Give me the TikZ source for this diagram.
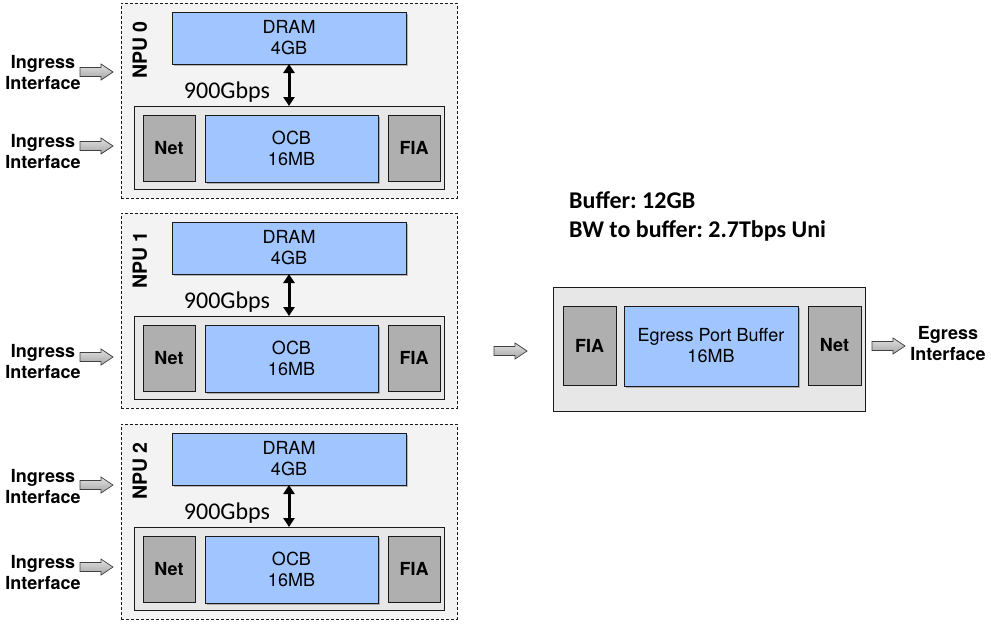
\documentclass[tikz,border=0pt]{standalone}
\usepackage{fontspec}
\setmainfont{TeX Gyre Heros}
\newfontfamily\calfont{Carlito}
\usetikzlibrary{shadows,arrows.meta}
\definecolor{outerbg}{HTML}{F3F3F3}
\definecolor{innerbg}{HTML}{E7E7E7}
\definecolor{greyblk}{HTML}{B0AFAF}
\definecolor{blueblk}{HTML}{A1C6FF}
\definecolor{edge}{HTML}{1A1A1A}
\frenchspacing
\begin{document}
\begin{tikzpicture}[x=1pt,y=-1pt,
  box/.style={anchor=north west,inner sep=0pt,outer sep=0pt,align=center},
  npubox/.style={box,fill=outerbg,draw=edge,line width=0.8pt,dash pattern=on 3pt off 2pt},
  innerbox/.style={box,fill=innerbg,draw=edge,line width=0.9pt},
  greybox/.style={box,fill=greyblk,draw=edge,line width=0.9pt,font=\bfseries\fontsize{18}{21}\selectfont},
  bluebox/.style={box,fill=blueblk,draw=edge,line width=0.9pt,font=\fontsize{18}{21}\selectfont,
     drop shadow={shadow xshift=1.5pt,shadow yshift=-2pt,opacity=0.25,fill=black}},
  iflabel/.style={align=center,inner sep=0pt,font=\bfseries\fontsize{18}{21}\selectfont},
  npulabel/.style={rotate=90,inner sep=0pt,font=\bfseries\fontsize{19.5}{21}\selectfont},
  bwlabel/.style={inner sep=0pt,font=\calfont\fontsize{24}{26}\selectfont},
  titlelabel/.style={anchor=base west,inner sep=0pt,font=\calfont\bfseries\fontsize{24}{26}\selectfont},
  dbl/.style={{Triangle[width=11pt,length=9pt]}-{Triangle[width=11pt,length=9pt]},line width=3pt},
  barrowstyle/.style={draw=black!75,line width=0.7pt,top color=black!12,bottom color=black!35},
  barrow/.pic={\path[barrowstyle] (0,-4.5) -- (21,-4.5) -- (21,-8) -- (33,0) -- (21,8) -- (21,4.5) -- (0,4.5) -- cycle;}
]
\useasboundingbox[fill=white] (0,0) rectangle (991,624);

\foreach \i/\dy in {0/0,1/210,2/421}{
\begin{scope}[shift={(0,\dy)}]
  \node[npubox,minimum width=336pt,minimum height=195pt] (npu\i) at (121,3) {};
  \node[npulabel] (lbl\i) at (140,50) {NPU \i};
  \node[bluebox,minimum width=234pt,minimum height=52pt] (dram\i) at (172,12) {DRAM\\4GB};
  \node[innerbox,minimum width=310pt,minimum height=83pt] (core\i) at (134,106) {};
  \node[greybox,minimum width=52pt,minimum height=66pt] (net\i) at (143,115) {Net};
  \node[bluebox,minimum width=173pt,minimum height=67pt] (ocb\i) at (205,115) {OCB\\16MB};
  \node[greybox,minimum width=52pt,minimum height=66pt] (fia\i) at (388,115) {FIA};
  \node[bwlabel] (bw\i) at (227,92) {900Gbps};
  \draw[dbl] (289,0 |- dram\i.south) -- (289,0 |- core\i.north);
\end{scope}
}

% ingress interfaces
\node[iflabel] (in0a) at (43,73) {Ingress\\Interface};
\pic at (80,72) {barrow};
\node[iflabel] (in0b) at (43,152) {Ingress\\Interface};
\pic at (80,146) {barrow};
\node[iflabel] (in1a) at (43,362) {Ingress\\Interface};
\pic at (80,357) {barrow};
\node[iflabel] (in2a) at (43,487) {Ingress\\Interface};
\pic at (80,485) {barrow};
\node[iflabel] (in2b) at (43,573) {Ingress\\Interface};
\pic at (80,567) {barrow};

% egress side
\node[titlelabel] (t1) at (569,208) {Buffer: 12GB};
\node[titlelabel] (t2) at (569,237) {BW to buffer: 2.7Tbps Uni};
\pic at (494,351) {barrow};
\node[innerbox,minimum width=312pt,minimum height=124pt] (eg) at (553,287) {};
\node[greybox,minimum width=53pt,minimum height=79pt] (efia) at (563,306) {FIA};
\node[bluebox,minimum width=174pt,minimum height=80pt] (epb) at (624,306) {Egress Port Buffer\\16MB};
\node[greybox,minimum width=53pt,minimum height=79pt] (enet) at (808,306) {Net};
\pic at (872,346) {barrow};
\node[iflabel] (eout) at (948,344) {Egress\\Interface};
\end{tikzpicture}
\end{document}
